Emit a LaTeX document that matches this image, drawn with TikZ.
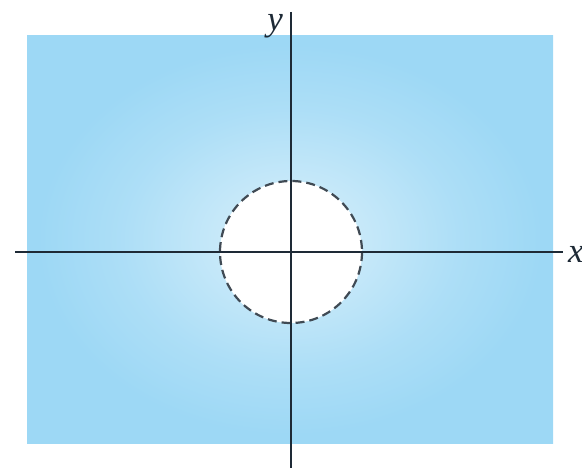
\documentclass[tikz,border=0pt]{standalone}
\usepackage{fontspec}
\setmainfont{Liberation Serif}
\definecolor{skyc}{HTML}{9DD8F5}
\definecolor{axisc}{HTML}{1E2A36}
\pgfdeclareradialshading{skyglow}{\pgfpoint{0bp}{0bp}}{%
  color(0bp)=(skyc!38);
  color(7bp)=(skyc!58);
  color(16bp)=(skyc!84);
  color(24bp)=(skyc);
  color(50bp)=(skyc)}
\begin{document}
\begin{tikzpicture}[x=1pt,y=-1pt,
  axis/.style={draw=axisc, line width=1.4pt},
  lbl/.style={font=\fontsize{35}{35}\selectfont\rmfamily\itshape, inner sep=0pt, text=axisc}]
\useasboundingbox (0,0) rectangle (582,468);
\coordinate (O) at (291,252);
\shade[shading=skyglow] (27,36) rectangle (553,443);
\fill[white] (O) circle (71);
\draw[axisc!85, line width=2.2pt, dash pattern=on 9pt off 5pt] (O) circle (71);
\coordinate (xl) at (15,252);
\coordinate (xr) at (563,252);
\coordinate (yt) at (291,12);
\coordinate (yb) at (291,468);
\draw[axis] (xl) -- (xr);
\draw[axis] (yt) -- (yb);
\node[lbl, anchor=base east] (ylab) at (283,31) {\textit{y}};
\node[lbl, anchor=base west] (xlab) at (568,263) {\textit{x}};
\end{tikzpicture}
\end{document}
